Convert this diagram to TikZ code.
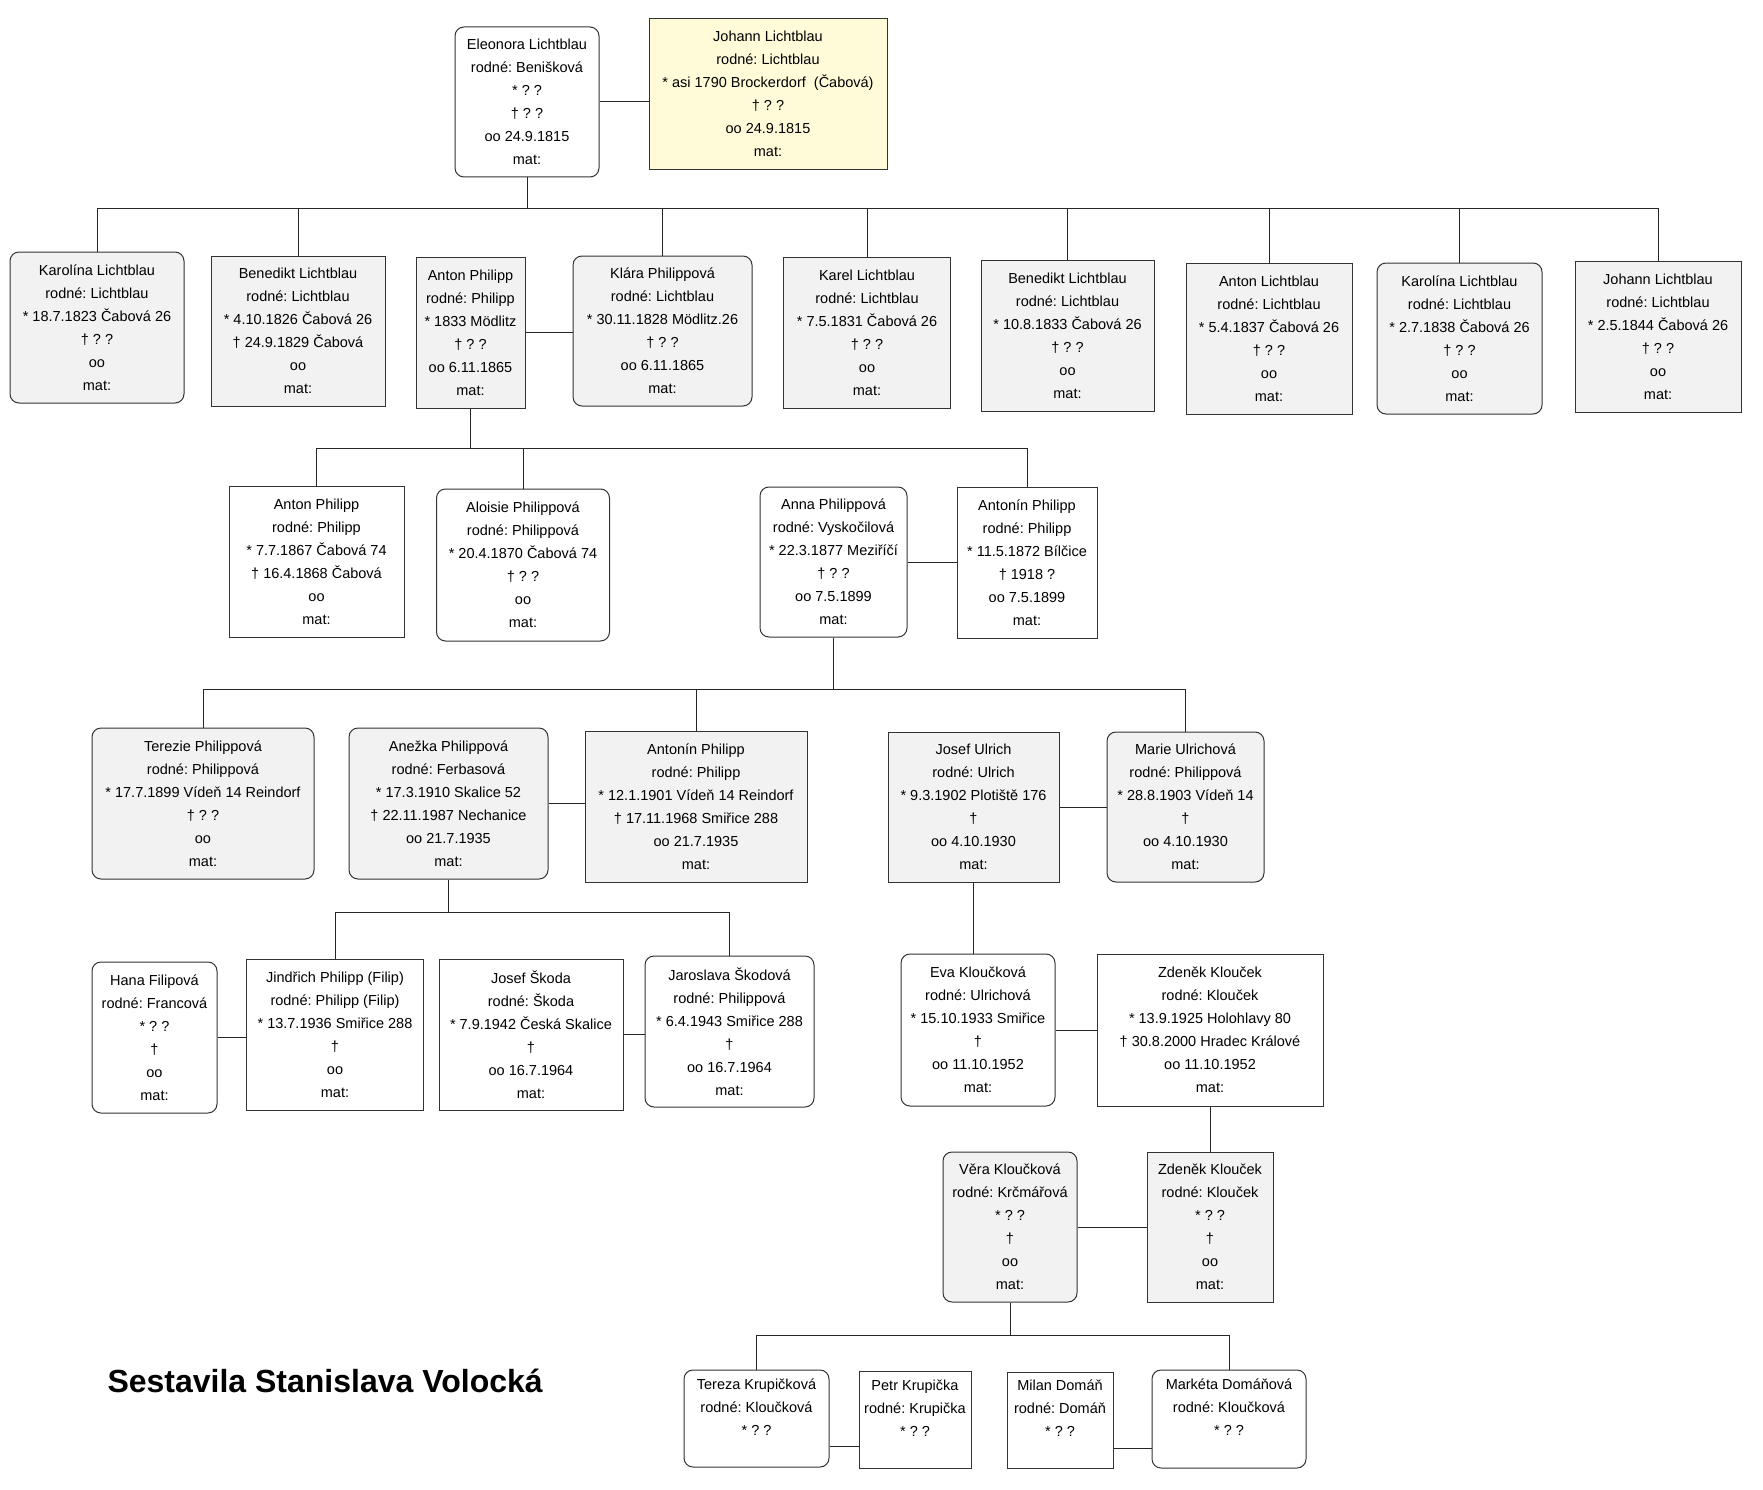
\documentclass[tikz,border=0pt]{standalone}
\usepackage{fontspec}
\setmainfont{Liberation Sans}
\usepackage[dvipsnames]{xcolor}
\definecolor{boxgray}{HTML}{F2F2F2}
\definecolor{boxyellow}{HTML}{FFFBD8}
\frenchspacing

\begin{document}
\begin{tikzpicture}[x=1pt,y=-1pt,
  box/.style={draw=black!80, line width=1pt, inner sep=0pt, align=center, fill=white,
    font=\fontsize{14.5}{23}\selectfont},
  rbox/.style={box, rounded corners=9pt},
  gfill/.style={fill=boxgray},
  yfill/.style={fill=boxyellow},
  wh/.style 2 args={minimum width=#1, minimum height=#2},
  link/.style={line width=1pt, black!85}]
                % 画布大小
                \useasboundingbox (0,0) rectangle (1763,1490);

                % 第一代
                \node[rbox, wh={144}{150}] (ele) at (527,102) {Eleonora Lichtblau\\rodné: Benišková\\* ? ?\\† ? ?\\oo 24.9.1815\\mat:};
                \node[box, yfill, wh={238}{151}] (joh) at (768,94) {Johann Lichtblau\\rodné: Lichtblau\\* asi 1790 Brockerdorf~ (Čabová)\\† ? ?\\oo 24.9.1815\\mat:};
                \draw[link] (ele.east) -- (ele.east -| joh.west);

                % 第二代
                \node[rbox, gfill, wh={174}{151}] (kar1) at (97,327.5) {Karolína Lichtblau\\rodné: Lichtblau\\* 18.7.1823 Čabová 26\\† ? ?\\oo\\mat:};
                \node[box, gfill, wh={174}{150}] (ben1) at (298,331) {Benedikt Lichtblau\\rodné: Lichtblau\\* 4.10.1826 Čabová 26\\† 24.9.1829 Čabová\\oo\\mat:};
                \node[box, gfill, wh={109}{151}] (ant1) at (470.5,332.5) {Anton Philipp\\rodné: Philipp\\* 1833 Mödlitz\\† ? ?\\oo 6.11.1865\\mat:};
                \node[rbox, gfill, wh={179}{150}] (kla) at (662.5,331) {Klára Philippová\\rodné: Lichtblau\\* 30.11.1828 Mödlitz.26\\† ? ?\\oo 6.11.1865\\mat:};
                \node[box, gfill, wh={167}{151}] (krl) at (867,332.5) {Karel Lichtblau\\rodné: Lichtblau\\* 7.5.1831 Čabová 26\\† ? ?\\oo\\mat:};
                \node[box, gfill, wh={173}{151}] (ben2) at (1067.5,335.5) {Benedikt Lichtblau\\rodné: Lichtblau\\* 10.8.1833 Čabová 26\\† ? ?\\oo\\mat:};
                \node[box, gfill, wh={166}{151}] (ant2) at (1269,338.5) {Anton Lichtblau\\rodné: Lichtblau\\* 5.4.1837 Čabová 26\\† ? ?\\oo\\mat:};
                \node[rbox, gfill, wh={165}{151}] (kar2) at (1459.5,338.5) {Karolína Lichtblau\\rodné: Lichtblau\\* 2.7.1838 Čabová 26\\† ? ?\\oo\\mat:};
                \node[box, gfill, wh={166}{151}] (joh2) at (1658,336.5) {Johann Lichtblau\\rodné: Lichtblau\\* 2.5.1844 Čabová 26\\† ? ?\\oo\\mat:};
                \draw[link] (ant1.east) -- (ant1.east -| kla.west);

                % 第一代到第二代的连线
                \coordinate (b1) at (527,208);
                \draw[link] (ele.south) -- (b1);
                \draw[link] (kar1.north |- b1) -- (joh2.north |- b1);
                \foreach \c in {kar1,ben1,kla,krl,ben2,ant2,kar2,joh2}
                    \draw[link] (\c.north) -- (\c.north |- b1);

                % 第三代
                \node[box, wh={175}{151}] (ant3) at (316.5,561.5) {Anton Philipp\\rodné: Philipp\\* 7.7.1867 Čabová 74\\† 16.4.1868 Čabová\\oo\\mat:};
                \node[rbox, wh={173}{152}] (alo) at (523,565) {Aloisie Philippová\\rodné: Philippová\\* 20.4.1870 Čabová 74\\† ? ?\\oo\\mat:};
                \node[rbox, wh={147}{150}] (ann) at (833.5,562) {Anna Philippová\\rodné: Vyskočilová\\* 22.3.1877 Meziříčí\\† ? ?\\oo 7.5.1899\\mat:};
                \node[box, wh={140}{151}] (ato1) at (1027,562.5) {Antonín Philipp\\rodné: Philipp\\* 11.5.1872 Bílčice\\† 1918 ?\\oo 7.5.1899\\mat:};
                \draw[link] (ann.east) -- (ann.east -| ato1.west);

                \coordinate (b2) at (470.5,448);
                \draw[link] (ant1.south) -- (b2);
                \draw[link] (ant3.north |- b2) -- (ato1.north |- b2);
                \foreach \c in {ant3,alo,ato1}
                    \draw[link] (\c.north) -- (\c.north |- b2);

                % 第四代
                \node[rbox, gfill, wh={222}{151}] (ter) at (203,803.5) {Terezie Philippová\\rodné: Philippová\\* 17.7.1899 Vídeň 14 Reindorf\\† ? ?\\oo\\mat:};
                \node[rbox, gfill, wh={199}{151}] (ane) at (448.5,803.5) {Anežka Philippová\\rodné: Ferbasová\\* 17.3.1910 Skalice 52\\† 22.11.1987 Nechanice\\oo 21.7.1935\\mat:};
                \node[box, gfill, wh={222}{151}] (ato2) at (696,806.5) {Antonín Philipp\\rodné: Philipp\\* 12.1.1901 Vídeň 14 Reindorf\\† 17.11.1968 Smiřice 288\\oo 21.7.1935\\mat:};
                \node[box, gfill, wh={171}{150}] (jul) at (973.5,807) {Josef Ulrich\\rodné: Ulrich\\* 9.3.1902 Plotiště 176\\†\\oo 4.10.1930\\mat:};
                \node[rbox, gfill, wh={157}{150}] (mar) at (1185.5,807) {Marie Ulrichová\\rodné: Philippová\\* 28.8.1903 Vídeň 14\\†\\oo 4.10.1930\\mat:};
                \draw[link] (ane.east) -- (ane.east -| ato2.west);
                \draw[link] (jul.east) -- (jul.east -| mar.west);

                \coordinate (b3) at (833.5,689);
                \draw[link] (ann.south) -- (b3);
                \draw[link] (ter.north |- b3) -- (mar.north |- b3);
                \foreach \c in {ter,ato2,mar}
                    \draw[link] (\c.north) -- (\c.north |- b3);

                % 第五代
                \node[rbox, wh={125}{151}] (han) at (154.5,1037.5) {Hana Filipová\\rodné: Francová\\* ? ?\\†\\oo\\mat:};
                \node[box, wh={177}{151}] (jin) at (335,1034.5) {Jindřich Philipp (Filip)\\rodné: Philipp (Filip)\\* 13.7.1936 Smiřice 288\\†\\oo\\mat:};
                \node[box, wh={184}{151}] (jsk) at (531,1034.5) {Josef Škoda\\rodné: Škoda\\* 7.9.1942 Česká Skalice\\†\\oo 16.7.1964\\mat:};
                \node[rbox, wh={169}{151}] (jar) at (729.5,1031.5) {Jaroslava Škodová\\rodné: Philippová\\* 6.4.1943 Smiřice 288\\†\\oo 16.7.1964\\mat:};
                \node[rbox, wh={154}{152}] (eva) at (978,1030) {Eva Kloučková\\rodné: Ulrichová\\* 15.10.1933 Smiřice\\†\\oo 11.10.1952\\mat:};
                \node[box, wh={226}{152}] (zde) at (1210,1030) {Zdeněk Klouček\\rodné: Klouček\\* 13.9.1925 Holohlavy 80\\† 30.8.2000 Hradec Králové\\oo 11.10.1952\\mat:};
                \draw[link] (han.east) -- (han.east -| jin.west);
                \draw[link] (jsk.east) -- (jsk.east -| jar.west);
                \draw[link] (eva.east) -- (eva.east -| zde.west);

                \coordinate (b4) at (448.5,912);
                \draw[link] (ane.south) -- (b4);
                \draw[link] (jin.north |- b4) -- (jar.north |- b4);
                \foreach \c in {jin,jar}
                    \draw[link] (\c.north) -- (\c.north |- b4);
                \draw[link] (jul.south) -- (jul.south |- eva.north);

                % 第六代
                \node[rbox, gfill, wh={134}{150}] (ver) at (1010,1227) {Věra Kloučková\\rodné: Krčmářová\\* ? ?\\†\\oo\\mat:};
                \node[box, gfill, wh={126}{150}] (zdj) at (1210,1227) {Zdeněk Klouček\\rodné: Klouček\\* ? ?\\†\\oo\\mat:};
                \draw[link] (ver.east) -- (ver.east -| zdj.west);
                \draw[link] (zde.south) -- (zdj.north);

                % 第七代
                \node[rbox, wh={145}{97}] (tkr) at (756.5,1418.5) {Tereza Krupičková\\rodné: Kloučková\\* ? ?\\ \mbox{}};
                \node[box, wh={112}{97}] (pkr) at (915,1419.5) {Petr Krupička\\rodné: Krupička\\* ? ?\\ \mbox{}};
                \node[box, wh={106}{96}] (mdo) at (1060,1420) {Milan Domáň\\rodné: Domáň\\* ? ?\\ \mbox{}};
                \node[rbox, wh={154}{98}] (mkd) at (1229,1419) {Markéta Domáňová\\rodné: Kloučková\\* ? ?\\ \mbox{}};
                \draw[link] ([yshift=-27.5pt]tkr.east) -- ([yshift=-27.5pt]tkr.east -| pkr.west);
                \draw[link] ([yshift=-28pt]mdo.east) -- ([yshift=-28pt]mdo.east -| mkd.west);

                \coordinate (b5) at (1010,1335);
                \draw[link] (ver.south) -- (b5);
                \draw[link] (tkr.north |- b5) -- (mkd.north |- b5);
                \foreach \c in {tkr,mkd}
                    \draw[link] (\c.north) -- (\c.north |- b5);

                % 标注作者
                \node[anchor=west, font=\bfseries\fontsize{32}{38}\selectfont] (title) at (104,1381) {Sestavila Stanislava Volocká};
\end{tikzpicture}
\end{document}
